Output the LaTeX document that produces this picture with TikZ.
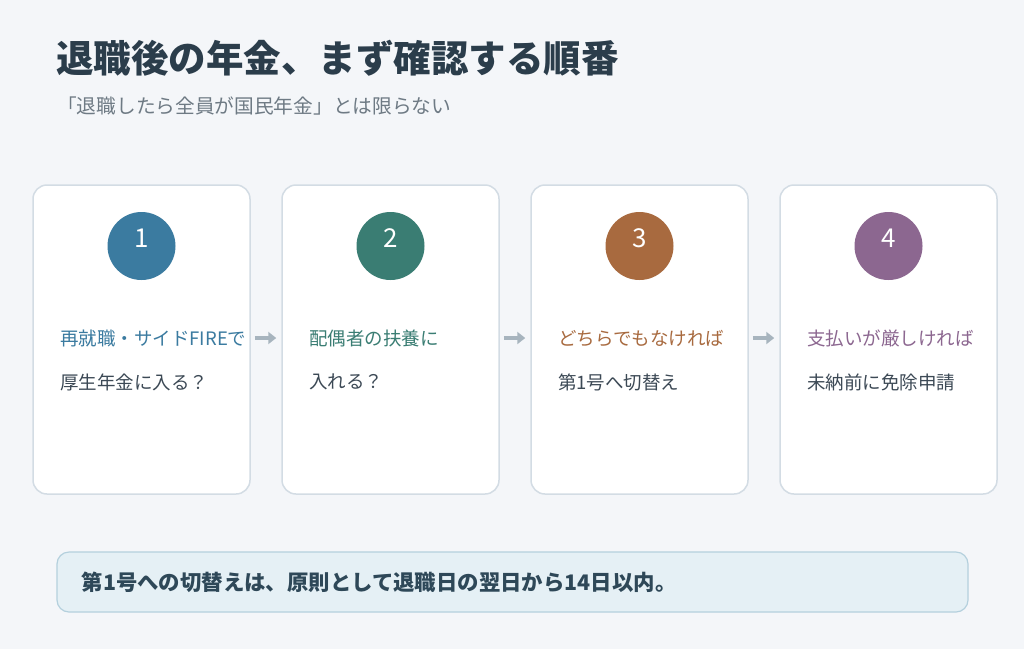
\documentclass[tikz,border=0pt]{standalone}
\usepackage{fontspec}
\setmainfont{Noto Sans CJK JP}
\newfontfamily\cjk{Noto Sans CJK JP}
\usetikzlibrary{arrows.meta,positioning}

\definecolor{pagebg}{HTML}{F4F6F9}
\definecolor{cardline}{HTML}{D3DCE4}
\definecolor{titlecol}{HTML}{2B3D4B}
\definecolor{subcol}{HTML}{6E7A84}
\definecolor{bodycol}{HTML}{3C4955}
\definecolor{arrowcol}{HTML}{A7B4BE}
\definecolor{stepblue}{HTML}{3B7BA0}
\definecolor{stepteal}{HTML}{3A7D73}
\definecolor{stepbrown}{HTML}{A86A3F}
\definecolor{steppurple}{HTML}{8C6790}
\definecolor{notefill}{HTML}{E5F0F5}
\definecolor{noteline}{HTML}{B4D0DD}
\definecolor{notetext}{HTML}{2E4858}

\tikzset{
  card/.style={draw=cardline, line width=1.5pt, fill=white, rounded corners=14pt,
    minimum width=217pt, minimum height=309pt, inner sep=0pt},
  badge/.style={circle, minimum size=68pt, inner sep=0pt},
  badgenum/.style={inner sep=0pt, text=white, font=\cjk\fontsize{26}{30}\selectfont},
  headline/.style={anchor=west, inner sep=0pt, font=\cjk\fontsize{18.5}{22}\selectfont},
  bodyline/.style={anchor=west, inner sep=0pt, text=bodycol, font=\cjk\fontsize{18.5}{22}\selectfont},
  flowarrow/.style={draw=arrowcol, line width=3.5pt, -{Triangle[length=8pt,width=12pt]}},
}

\begin{document}
\begin{tikzpicture}[x=1pt, y=-1pt]
  \fill[pagebg] (0,0) rectangle (1024,649);
  \useasboundingbox (0,0) rectangle (1024,649);

  % Title
  \node[anchor=west, inner sep=0pt, text=titlecol, font=\cjk\bfseries\fontsize{37.5}{42}\selectfont]
    (title) at (56,58) {退職後の年金、まず確認する順番};
  \node[anchor=west, inner sep=0pt, text=subcol, font=\cjk\fontsize{19.7}{23}\selectfont]
    (subtitle) at (57,106) {「退職したら全員が国民年金」とは限らない};

  % Define the cards
  \node[card] (card1) at (141.5,339.5) {};
  \node[card] (card2) at (390.5,339.5) {};
  \node[card] (card3) at (639.5,339.5) {};
  \node[card] (card4) at (888.5,339.5) {};

  % Numbered badges
  \node[badge, fill=stepblue]   (num1) at (141.5,246) {};
  \node[badge, fill=stepteal]   (num2) at (390.5,246) {};
  \node[badge, fill=stepbrown]  (num3) at (639.5,246) {};
  \node[badge, fill=steppurple] (num4) at (888.5,246) {};
  \node[badgenum] (n1) at ([yshift=8pt]num1.center) {1};
  \node[badgenum] (n2) at ([yshift=8pt]num2.center) {2};
  \node[badgenum] (n3) at ([yshift=8pt]num3.center) {3};
  \node[badgenum] (n4) at ([yshift=8pt]num4.center) {4};

  % Card texts
  \node[headline, text=stepblue]   (head1) at (60,338)  {再就職・サイドFIREで};
  \node[bodyline]                  (body1) at (60,382)  {厚生年金に入る？};
  \node[headline, text=stepteal]   (head2) at (309,338) {配偶者の扶養に};
  \node[bodyline]                  (body2) at (309,382) {入れる？};
  \node[headline, text=stepbrown]  (head3) at (558,338) {どちらでもなければ};
  \node[bodyline]                  (body3) at (558,382) {第1号へ切替え};
  \node[headline, text=steppurple] (head4) at (807,338) {支払いが厳しければ};
  \node[bodyline]                  (body4) at (807,382) {未納前に免除申請};

  % Draw the arrows between cards
  \draw[flowarrow] ([xshift=4pt]card1.east |- head1.west) -- ([xshift=-5pt]card2.west |- head1.west);
  \draw[flowarrow] ([xshift=4pt]card2.east |- head1.west) -- ([xshift=-5pt]card3.west |- head1.west);
  \draw[flowarrow] ([xshift=4pt]card3.east |- head1.west) -- ([xshift=-5pt]card4.west |- head1.west);

  % Note box
  \node[draw=noteline, line width=1.2pt, fill=notefill, rounded corners=12pt,
    minimum width=911pt, minimum height=60pt, inner sep=0pt] (note) at (512.5,582) {};
  \node[anchor=west, inner sep=0pt, text=notetext, font=\cjk\bfseries\fontsize{21.4}{25}\selectfont]
    (notetxt) at ([xshift=25pt]note.west) {第1号への切替えは、原則として退職日の翌日から14日以内。};
\end{tikzpicture}
\end{document}
